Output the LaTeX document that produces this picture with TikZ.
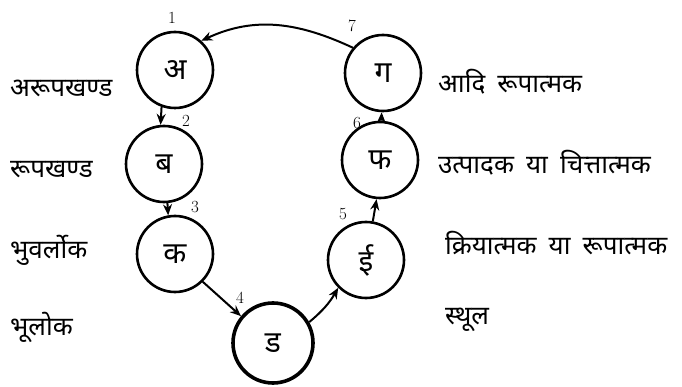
\documentclass[tikz,border=0pt]{standalone}
\usepackage{fontspec}
\newfontfamily\devfont[Script=Devanagari,WordSpace=1.8]{Noto Sans}
\usetikzlibrary{positioning,arrows.meta}
\tikzset{
  stage/.style={
    draw,
    circle,
    line width=2.6pt,
    minimum size=76pt,
    inner sep=0pt,
    font=\devfont\fontsize{30}{34}\selectfont\bfseries
  },
  stagebig/.style={
    stage,
    line width=3.6pt,
    minimum size=80pt
  },
  lyr/.style={
    anchor=west,
    inner sep=0pt,
    font=\devfont\fontsize{26}{30}\selectfont
  },
  num/.style={
    inner sep=0pt,
    font=\fontsize{17}{20}\selectfont
  },
  flow/.style={
    -{Stealth[length=11pt,width=9pt]},
    line width=2pt
  }
}

\begin{document}
\begin{tikzpicture}[x=1pt,y=1pt]
    \useasboundingbox (0,0) rectangle (682,-387);

    % the seven stages
    \node[stage] (a) at (175,-70) {अ};
    \node[stage] (b) at (164,-164) {ब};
    \node[stage] (c) at (175,-254) {क};
    \node[stagebig] (d) at (273,-343) {ड};
    \node[stage] (e) at (366,-260) {ई};
    \node[stage] (f) at (380,-160) {फ};
    \node[stage] (g) at (383,-73) {ग};

    \node[num, above=7pt of a, xshift=-3pt] (n1) {1};
    \node[num] (n2) at (186,-121) {2};
    \node[num] (n3) at (195,-207) {3};
    \node[num] (n4) at (240,-298) {4};
    \node[num] (n5) at (343,-214) {5};
    \node[num] (n6) at (357,-123) {6};
    \node[num] (n7) at (352,-26) {7};

    % left column
    \node[lyr] (arupa) at (10,-88) {अरूपखण्ड};
    \node[lyr] (rupa) at (10,-170) {रूपखण्ड};
    \node[lyr] (bhuvar) at (10,-250) {भुवर्लोक};
    \node[lyr] (bhu) at (10,-327) {भूलोक};

    % right column
    \node[lyr] (adi) at (438,-82) {आदि रूपात्मक};
    \node[lyr] (utpa) at (438,-163) {उत्पादक या चित्तात्मक};
    \node[lyr] (kriya) at (445,-243) {क्रियात्मक या रूपात्मक};
    \node[lyr] (sthul) at (445,-320) {स्थूल};

    \draw[flow] (a.250) -- (b.95);
    \draw[flow] (b.275) -- (c.100);
    \draw[flow] (c.-45) -- (d.140);
    \draw[flow] (d.30) to[bend right=10] (e.225);
    \draw[flow] (e.80) -- (f.265);
    \draw[flow] (f.88) -- (g.268);
    \draw[flow] (g.140) to[out=155,in=25] (a.48);

\end{tikzpicture}
\end{document}
